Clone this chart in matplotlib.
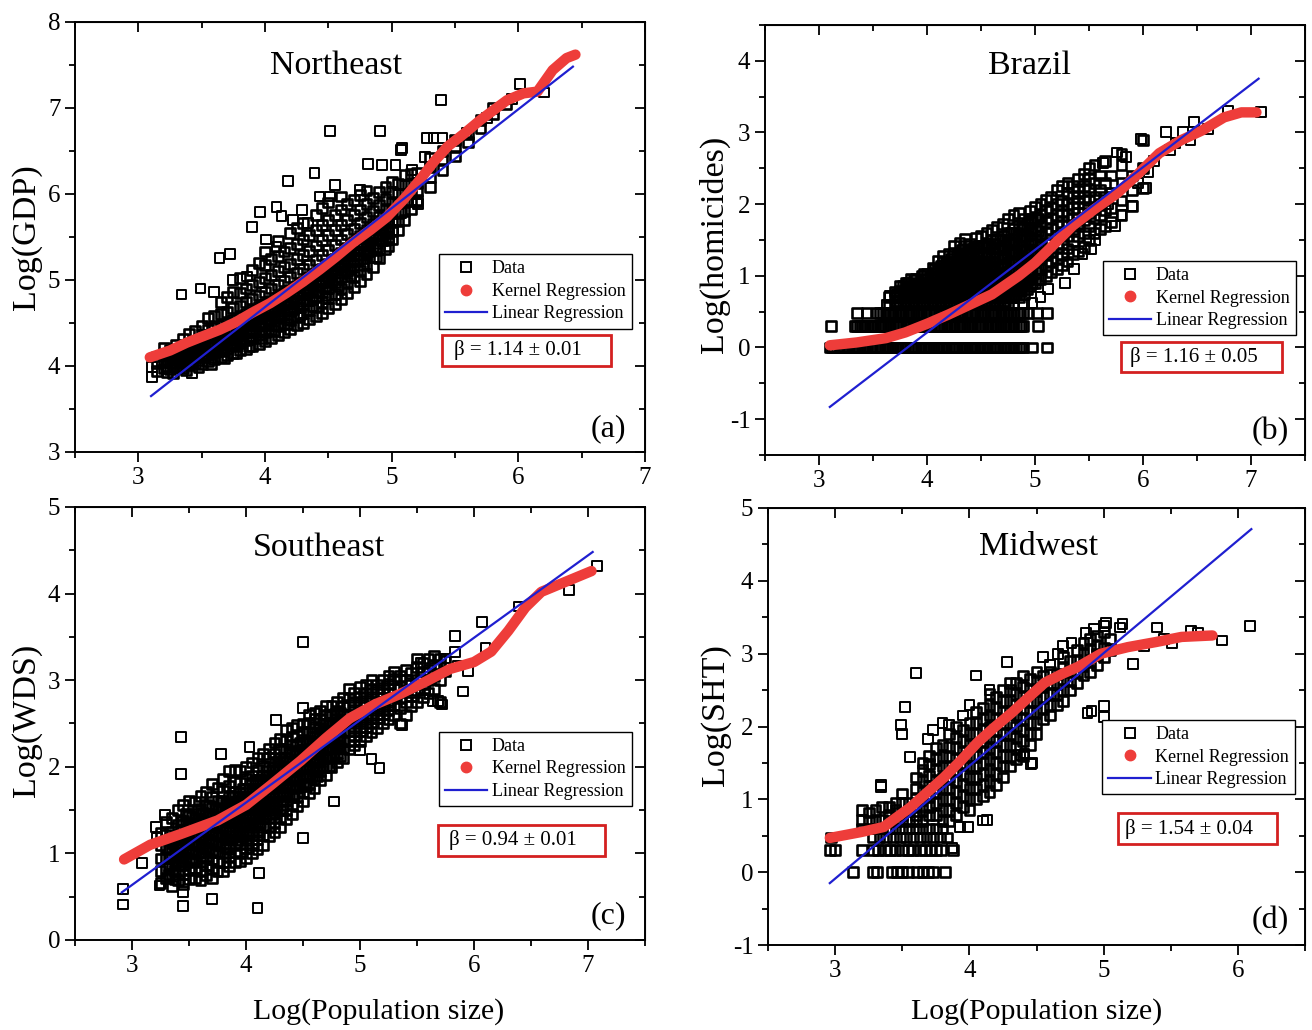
import matplotlib
matplotlib.use("Agg")
import matplotlib.pyplot as plt
from matplotlib.lines import Line2D
from matplotlib.patches import Rectangle
from matplotlib.ticker import MultipleLocator

plt.rcParams['font.family'] = ['Liberation Serif', 'DejaVu Serif']
plt.rcParams['axes.unicode_minus'] = False

# ---------------- (a) Northeast : Log(GDP) ----------------
a_cols = [3.15, 3.2, 3.25, 3.3, 3.35, 3.4, 3.45, 3.5, 3.55, 3.6, 3.65, 3.7, 3.75, 3.8,
          3.85, 3.9, 3.95, 4.0, 4.05, 4.1, 4.15, 4.2, 4.25, 4.3, 4.35, 4.4, 4.45, 4.5,
          4.55, 4.6, 4.65, 4.7, 4.75, 4.8, 4.85, 4.9, 4.95, 5.0, 5.05, 5.1, 5.15, 5.2,
          5.3, 5.4, 5.5, 5.6, 5.7, 5.8, 5.9]
a_vals = [[3.94, 4.03, 4.11], [3.97, 4.06, 4.14, 4.21], [3.96, 4.04, 4.12, 4.19],
          [3.99, 4.08, 4.16, 4.24], [3.97, 4.05, 4.13, 4.22, 4.31], [4.01, 4.09, 4.17, 4.26, 4.37],
          [4.03, 4.11, 4.2, 4.29, 4.41], [4.02, 4.1, 4.19, 4.28, 4.36, 4.47],
          [4.06, 4.14, 4.23, 4.32, 4.42, 4.56], [4.08, 4.16, 4.25, 4.34, 4.44, 4.58],
          [4.1, 4.19, 4.28, 4.37, 4.47, 4.6, 4.74], [4.13, 4.21, 4.3, 4.4, 4.5, 4.63, 4.8],
          [4.15, 4.24, 4.33, 4.43, 4.54, 4.67, 4.86], [4.18, 4.27, 4.36, 4.46, 4.57, 4.7, 4.85, 5.02],
          [4.2, 4.3, 4.39, 4.5, 4.61, 4.74, 4.9], [4.23, 4.32, 4.42, 4.53, 4.65, 4.78, 4.94, 5.12],
          [4.26, 4.36, 4.46, 4.57, 4.69, 4.82, 4.98, 5.2],
          [4.29, 4.39, 4.49, 4.6, 4.72, 4.86, 5.02, 5.17, 5.33],
          [4.32, 4.42, 4.53, 4.64, 4.76, 4.9, 5.06, 5.24],
          [4.36, 4.46, 4.56, 4.68, 4.8, 4.94, 5.1, 5.28, 5.45],
          [4.39, 4.49, 4.6, 4.72, 4.85, 4.99, 5.15, 5.33],
          [4.43, 4.53, 4.64, 4.76, 4.89, 5.03, 5.19, 5.37, 5.55],
          [4.47, 4.57, 4.68, 4.8, 4.93, 5.08, 5.24, 5.42, 5.6],
          [4.5, 4.61, 4.72, 4.85, 4.98, 5.13, 5.29, 5.47, 5.66],
          [4.54, 4.65, 4.77, 4.9, 5.03, 5.18, 5.34, 5.52],
          [4.58, 4.69, 4.81, 4.94, 5.08, 5.23, 5.4, 5.58, 5.76],
          [4.62, 4.74, 4.86, 4.99, 5.13, 5.29, 5.46, 5.64, 5.84],
          [4.67, 4.79, 4.91, 5.05, 5.19, 5.35, 5.52, 5.7, 5.9],
          [4.72, 4.84, 4.97, 5.11, 5.25, 5.41, 5.58, 5.76],
          [4.78, 4.9, 5.03, 5.17, 5.31, 5.47, 5.64, 5.82, 5.97],
          [4.85, 4.97, 5.1, 5.23, 5.37, 5.53, 5.7, 5.88],
          [4.92, 5.04, 5.17, 5.3, 5.44, 5.59, 5.76, 5.93],
          [4.99, 5.11, 5.24, 5.37, 5.51, 5.66, 5.82, 5.99],
          [5.07, 5.19, 5.31, 5.44, 5.58, 5.73, 5.88, 6.04],
          [5.15, 5.27, 5.39, 5.52, 5.65, 5.8, 5.95], [5.25, 5.36, 5.48, 5.6, 5.73, 5.87, 6.02],
          [5.36, 5.46, 5.57, 5.69, 5.81, 5.94, 6.08], [5.47, 5.57, 5.67, 5.78, 5.9, 6.02, 6.14],
          [5.58, 5.68, 5.78, 5.89, 6.0, 6.12], [5.7, 5.8, 5.9, 6.0, 6.11, 6.22],
          [5.82, 5.92, 6.02, 6.12, 6.23], [5.93, 6.03, 6.13, 6.24], [6.08, 6.2, 6.32, 6.42],
          [6.28, 6.4, 6.5], [6.44, 6.55, 6.63], [6.6, 6.7], [6.76, 6.86], [6.93, 7.0], [7.04]]
# densest band just under the kernel curve
a_core_cols = [3.225, 3.275, 3.325, 3.375, 3.425, 3.475, 3.525, 3.575, 3.625, 3.675, 3.725,
               3.775, 3.825, 3.875, 3.925, 3.975, 4.025, 4.075, 4.125, 4.175, 4.225, 4.275,
               4.325, 4.375, 4.425, 4.475, 4.525, 4.575, 4.625, 4.675, 4.725, 4.775, 4.825,
               4.875, 4.925, 4.975]
a_core_vals = [[3.93, 4.0, 4.07, 4.14], [3.92, 4.0, 4.08, 4.16], [3.99, 4.06, 4.13, 4.2],
               [3.95, 4.03, 4.11, 4.19], [4.05, 4.12, 4.19, 4.26], [3.99, 4.07, 4.15, 4.23, 4.3],
               [4.11, 4.18, 4.25, 4.32], [4.02, 4.1, 4.18, 4.26, 4.34], [4.17, 4.24, 4.31, 4.38],
               [4.09, 4.17, 4.25, 4.33, 4.41], [4.24, 4.31, 4.38, 4.45],
               [4.15, 4.23, 4.31, 4.39, 4.47], [4.31, 4.38, 4.45, 4.52],
               [4.23, 4.31, 4.39, 4.47, 4.55], [4.4, 4.47, 4.54, 4.61],
               [4.32, 4.4, 4.48, 4.56, 4.64], [4.48, 4.55, 4.62, 4.69],
               [4.41, 4.49, 4.57, 4.65, 4.73], [4.57, 4.64, 4.71, 4.78],
               [4.49, 4.57, 4.65, 4.73, 4.81], [4.66, 4.73, 4.8, 4.87],
               [4.6, 4.68, 4.76, 4.84, 4.92], [4.77, 4.84, 4.91, 4.98],
               [4.7, 4.78, 4.86, 4.94, 5.02], [4.87, 4.94, 5.01, 5.08],
               [4.82, 4.9, 4.98, 5.06, 5.14], [4.99, 5.06, 5.13, 5.2],
               [4.93, 5.01, 5.09, 5.17, 5.25], [5.11, 5.18, 5.25, 5.32],
               [5.05, 5.13, 5.21, 5.29, 5.37], [5.23, 5.3, 5.37, 5.44],
               [5.17, 5.25, 5.33, 5.41, 5.49], [5.34, 5.41, 5.48, 5.55],
               [5.27, 5.35, 5.43, 5.51, 5.59], [5.46, 5.53, 5.6, 5.67],
               [5.39, 5.47, 5.55, 5.63, 5.71]]
a_out_x = [4.51, 4.91, 5.07, 4.81, 4.92, 5.03, 4.39, 4.18, 4.55, 3.96, 4.09, 3.9, 4.13, 3.64,
           3.72, 3.34, 3.49, 3.6, 5.01, 5.2, 3.11, 3.11, 3.42, 4.43, 4.51, 4.75, 4.29, 4.34,
           4.22, 4.09, 4.01, 3.75, 3.86, 6.01, 5.39, 5.28, 5.33, 5.4, 5.08, 5.59, 5.75, 5.26,
           5.16, 5.21, 4.98, 5.07, 6.2, 5.95]
a_out_y = [6.73, 6.73, 6.51, 6.35, 6.34, 6.34, 6.24, 6.15, 6.1, 5.79, 5.85, 5.62, 5.74, 5.26,
           5.3, 4.83, 4.9, 4.86, 5.58, 5.9, 3.99, 3.87, 3.92, 5.97, 5.97, 6.05, 5.81, 5.66,
           5.7, 5.38, 5.47, 5.0, 5.04, 7.28, 7.09, 6.65, 6.65, 6.65, 6.53, 6.71, 6.88, 6.43,
           6.28, 5.88, 5.49, 5.78, 7.18, 7.1]
a_kern_x = [3.09, 3.25, 3.38, 3.5, 3.64, 3.77, 3.9, 4.04, 4.17, 4.3, 4.43, 4.56, 4.69, 4.83,
            4.96, 5.09, 5.22, 5.33, 5.44, 5.57, 5.7, 5.8, 5.91, 6.04, 6.15, 6.27, 6.38, 6.45]
a_kern_y = [4.1, 4.18, 4.27, 4.34, 4.42, 4.51, 4.62, 4.73, 4.85, 4.98, 5.12, 5.27, 5.43, 5.58,
            5.73, 5.93, 6.16, 6.37, 6.55, 6.7, 6.86, 6.97, 7.09, 7.17, 7.19, 7.44, 7.58, 7.62]
a_lin_x = [3.1, 6.43]
a_lin_y = [3.65, 7.48]

# ---------------- (b) Brazil : Log(homicides) ----------------
b_row_y = [0.0, 0.301, 0.477]
b_row_x = [[3.1, 3.12, 3.14, 3.165, 3.19, 3.21, 3.23, 3.255, 3.28, 3.305, 3.33, 3.35, 3.37,
            3.395, 3.42, 3.445, 3.47, 3.495, 3.52, 3.54, 3.56, 3.585, 3.61, 3.635, 3.66, 3.68,
            3.7, 3.725, 3.75, 3.775, 3.8, 3.825, 3.85, 3.87, 3.89, 3.915, 3.94, 3.965, 3.99,
            4.015, 4.04, 4.06, 4.08, 4.105, 4.13, 4.155, 4.18, 4.205, 4.23, 4.25, 4.27, 4.295,
            4.32, 4.345, 4.37, 4.395, 4.42, 4.44, 4.46, 4.485, 4.51, 4.535, 4.56, 4.585, 4.61,
            4.63, 4.65, 4.675, 4.7, 4.725, 4.75, 4.775, 4.8, 4.825, 4.85, 4.87, 4.89, 4.97,
            5.11],
           [3.11, 3.33, 3.355, 3.38, 3.4, 3.42, 3.445, 3.47, 3.495, 3.52, 3.545, 3.57, 3.59,
            3.61, 3.635, 3.66, 3.685, 3.71, 3.73, 3.75, 3.775, 3.8, 3.825, 3.85, 3.875, 3.9,
            3.92, 3.94, 3.965, 3.99, 4.015, 4.04, 4.065, 4.09, 4.11, 4.13, 4.155, 4.18, 4.205,
            4.23, 4.255, 4.28, 4.3, 4.32, 4.345, 4.37, 4.395, 4.42, 4.445, 4.47, 4.49, 4.51,
            4.535, 4.56, 4.585, 4.61, 4.635, 4.66, 4.68, 4.7, 4.725, 4.75, 4.775, 4.8, 4.825,
            4.85, 4.87, 4.89, 5.03],
           [3.35, 3.44, 3.54, 3.565, 3.59, 3.615, 3.64, 3.66, 3.68, 3.705, 3.73, 3.755, 3.78,
            3.805, 3.83, 3.85, 3.87, 3.895, 3.92, 3.945, 3.97, 3.995, 4.02, 4.04, 4.06, 4.085,
            4.11, 4.135, 4.16, 4.185, 4.21, 4.23, 4.25, 4.275, 4.3, 4.325, 4.35, 4.375, 4.4,
            4.42, 4.44, 4.465, 4.49, 4.515, 4.54, 4.565, 4.59, 4.61, 4.63, 4.655, 4.68, 4.705,
            4.73, 4.755, 4.78, 4.805, 4.83, 4.86, 4.89, 4.94, 5.02, 5.11]]
b_cols = [3.65, 3.7, 3.75, 3.8, 3.85, 3.9, 3.95, 4.0, 4.05, 4.1, 4.15, 4.2, 4.25, 4.3, 4.35,
          4.4, 4.45, 4.5, 4.55, 4.6, 4.65, 4.7, 4.75, 4.8, 4.85, 4.9, 4.95, 5.0, 5.05, 5.1,
          5.15, 5.2, 5.25, 5.3, 5.35, 5.4, 5.45, 5.5, 5.55, 5.6, 5.65, 5.7, 5.8, 5.9, 6.0]
b_vals = [[0.6, 0.7], [0.6, 0.7, 0.78], [0.6, 0.7, 0.79, 0.86], [0.6, 0.7, 0.78, 0.85, 0.9],
          [0.6, 0.7, 0.78, 0.86, 0.95], [0.6, 0.7, 0.79, 0.85, 0.96], [0.6, 0.7, 0.78, 0.85, 0.9, 1.0],
          [0.6, 0.7, 0.78, 0.86, 0.95, 1.02], [0.6, 0.7, 0.78, 0.85, 0.95, 1.04, 1.11],
          [0.6, 0.7, 0.79, 0.9, 1.0, 1.1, 1.21], [0.6, 0.7, 0.8, 0.9, 1.01, 1.1, 1.2, 1.28],
          [0.6, 0.7, 0.8, 0.9, 1.0, 1.11, 1.2, 1.31], [0.6, 0.7, 0.8, 0.91, 1.0, 1.1, 1.2, 1.32, 1.41],
          [0.6, 0.7, 0.8, 0.9, 1.0, 1.1, 1.21, 1.3, 1.46],
          [0.6, 0.7, 0.8, 0.9, 1.0, 1.1, 1.2, 1.3, 1.42, 1.51],
          [0.6, 0.7, 0.8, 0.9, 1.0, 1.1, 1.2, 1.32, 1.45],
          [0.6, 0.7, 0.8, 0.9, 1.0, 1.1, 1.2, 1.3, 1.4, 1.53],
          [0.6, 0.7, 0.8, 0.9, 1.0, 1.1, 1.2, 1.3, 1.42, 1.56],
          [0.6, 0.7, 0.8, 0.9, 1.0, 1.1, 1.2, 1.32, 1.45, 1.6],
          [0.6, 0.7, 0.8, 0.9, 1.0, 1.12, 1.25, 1.38, 1.5, 1.64],
          [0.6, 0.7, 0.8, 0.9, 1.0, 1.12, 1.25, 1.38, 1.52, 1.68],
          [0.6, 0.7, 0.8, 0.9, 1.02, 1.15, 1.28, 1.42, 1.56, 1.72],
          [0.6, 0.7, 0.8, 0.92, 1.05, 1.18, 1.32, 1.46, 1.6, 1.8],
          [0.6, 0.7, 0.8, 0.92, 1.05, 1.2, 1.35, 1.5, 1.65, 1.85],
          [0.7, 0.8, 0.95, 1.1, 1.25, 1.4, 1.55, 1.7, 1.88],
          [0.75, 0.9, 1.05, 1.2, 1.35, 1.5, 1.65, 1.8],
          [0.85, 1.0, 1.15, 1.3, 1.45, 1.6, 1.75, 1.9],
          [0.9, 1.05, 1.2, 1.35, 1.5, 1.65, 1.8, 1.96],
          [0.95, 1.1, 1.25, 1.4, 1.55, 1.7, 1.85, 2.0],
          [1.0, 1.15, 1.3, 1.45, 1.6, 1.75, 1.9, 2.06],
          [1.05, 1.2, 1.35, 1.5, 1.65, 1.8, 1.95, 2.1],
          [1.1, 1.25, 1.4, 1.55, 1.7, 1.85, 2.0, 2.2],
          [1.15, 1.3, 1.45, 1.6, 1.75, 1.9, 2.05, 2.25],
          [1.2, 1.38, 1.55, 1.7, 1.85, 2.0, 2.15, 2.3],
          [1.3, 1.48, 1.65, 1.8, 1.95, 2.1, 2.25], [1.35, 1.55, 1.72, 1.88, 2.02, 2.18, 2.35],
          [1.4, 1.6, 1.78, 1.95, 2.1, 2.25, 2.42], [1.5, 1.7, 1.88, 2.05, 2.2, 2.35, 2.5],
          [1.6, 1.8, 1.95, 2.1, 2.3, 2.55], [1.65, 1.85, 2.0, 2.2, 2.4],
          [1.7, 1.92, 2.1, 2.3, 2.6], [1.75, 1.95, 2.15, 2.4], [1.85, 2.05, 2.3, 2.55, 2.7],
          [1.97, 2.2, 2.4], [2.22, 2.5, 2.9]]
b_core_cols = [3.725, 3.775, 3.825, 3.875, 3.925, 3.975, 4.025, 4.075, 4.125, 4.175, 4.225,
               4.275, 4.325, 4.375, 4.425, 4.475, 4.525, 4.575, 4.625, 4.675, 4.725, 4.775,
               4.825, 4.875, 4.925, 4.975, 5.025]
b_core_vals = [[0.65, 0.74], [0.62, 0.7, 0.78, 0.86], [0.65, 0.74, 0.82, 0.9],
               [0.62, 0.7, 0.78, 0.86, 0.94], [0.65, 0.74, 0.82, 0.9],
               [0.62, 0.7, 0.78, 0.86, 0.94, 1.02], [0.65, 0.74, 0.82, 0.9, 0.98],
               [0.62, 0.7, 0.78, 0.86, 0.94, 1.02, 1.1],
               [0.65, 0.74, 0.82, 0.9, 0.98, 1.06, 1.14],
               [0.62, 0.7, 0.78, 0.86, 0.94, 1.02, 1.1, 1.18],
               [0.65, 0.74, 0.82, 0.9, 0.98, 1.06, 1.14, 1.24],
               [0.62, 0.7, 0.78, 0.86, 0.94, 1.02, 1.1, 1.18, 1.28],
               [0.65, 0.74, 0.82, 0.9, 0.98, 1.06, 1.14, 1.25, 1.36],
               [0.62, 0.7, 0.78, 0.86, 0.94, 1.02, 1.1, 1.18, 1.26, 1.34],
               [0.65, 0.74, 0.82, 0.9, 0.98, 1.06, 1.14, 1.25, 1.38],
               [0.62, 0.7, 0.78, 0.86, 0.94, 1.02, 1.1, 1.18, 1.26, 1.34, 1.42],
               [0.65, 0.74, 0.82, 0.9, 0.98, 1.06, 1.16, 1.28, 1.4],
               [0.62, 0.7, 0.78, 0.86, 0.94, 1.02, 1.1, 1.2, 1.3, 1.42],
               [0.65, 0.74, 0.82, 0.9, 0.98, 1.08, 1.2, 1.32, 1.45],
               [0.62, 0.7, 0.78, 0.86, 0.95, 1.04, 1.14, 1.26, 1.38, 1.5],
               [0.65, 0.74, 0.82, 0.92, 1.02, 1.12, 1.24, 1.37, 1.5],
               [0.7, 0.78, 0.87, 0.97, 1.08, 1.2, 1.33, 1.46, 1.6],
               [0.74, 0.84, 0.95, 1.06, 1.18, 1.3, 1.44, 1.6],
               [0.78, 0.88, 1.0, 1.13, 1.27, 1.42, 1.56, 1.7],
               [0.82, 0.94, 1.08, 1.22, 1.38, 1.55, 1.72], [0.9, 1.03, 1.18, 1.34, 1.5, 1.66, 1.8],
               [0.95, 1.1, 1.28, 1.45, 1.62, 1.8]]
b_out_x = [5.12, 5.28, 5.36, 5.44, 5.52, 5.74, 5.9, 6.03, 5.84, 5.98, 6.21, 6.37, 6.47, 6.79,
           7.09, 6.1, 6.3, 6.44, 6.6, 6.25, 5.63, 5.76, 5.68, 5.8, 5.95, 6.05, 5.56, 3.63,
           3.66, 4.9, 4.97, 5.05]
b_out_y = [0.81, 0.9, 1.09, 1.3, 1.37, 1.69, 1.97, 2.22, 2.66, 2.91, 3.01, 3.01, 3.14, 3.3,
           3.28, 2.6, 2.85, 2.9, 3.05, 2.75, 2.57, 2.72, 2.0, 1.85, 2.3, 2.45, 1.5, 0.59,
           0.72, 0.6, 0.62, 0.7]
b_kern_x = [3.1, 3.35, 3.62, 3.8, 4.0, 4.2, 4.4, 4.6, 4.85, 5.0, 5.15, 5.35, 5.55, 5.76,
            5.96, 6.15, 6.35, 6.55, 6.75, 6.91, 7.05]
b_kern_y = [0.03, 0.07, 0.13, 0.21, 0.33, 0.46, 0.6, 0.74, 1.0, 1.18, 1.4, 1.7, 1.93, 2.15,
            2.43, 2.71, 2.89, 3.03, 3.21, 3.28, 3.28]
b_lin_x = [3.1, 7.07]
b_lin_y = [-0.83, 3.75]

# ---------------- (c) Southeast : Log(WDS) ----------------
c_cols = [3.25, 3.3, 3.35, 3.4, 3.45, 3.5, 3.55, 3.6, 3.65, 3.7, 3.75, 3.8, 3.85, 3.9, 3.95,
          4.0, 4.05, 4.1, 4.15, 4.2, 4.25, 4.3, 4.35, 4.4, 4.45, 4.5, 4.55, 4.6, 4.65, 4.7,
          4.75, 4.8, 4.85, 4.9, 4.95, 5.0, 5.05, 5.1, 5.15, 5.2, 5.25, 5.3, 5.35, 5.4, 5.45,
          5.5, 5.55, 5.6, 5.65, 5.7, 5.75]
c_vals = [[0.66, 0.8, 0.94, 1.1, 1.24], [0.71, 0.83, 0.95, 1.07, 1.21, 1.36],
          [0.62, 0.76, 0.88, 1.0, 1.13, 1.25, 1.41], [0.69, 0.8, 0.91, 1.01, 1.1, 1.21, 1.33, 1.5],
          [0.65, 0.76, 0.86, 0.95, 1.06, 1.16, 1.26, 1.38, 1.56],
          [0.7, 0.81, 0.9, 1.0, 1.11, 1.2, 1.31, 1.43, 1.61],
          [0.72, 0.83, 0.93, 1.02, 1.12, 1.23, 1.33, 1.46, 1.6],
          [0.69, 0.8, 0.9, 1.01, 1.1, 1.2, 1.31, 1.4, 1.51, 1.66],
          [0.75, 0.86, 0.95, 1.06, 1.15, 1.26, 1.35, 1.46, 1.56, 1.71],
          [0.72, 0.82, 0.93, 1.02, 1.13, 1.22, 1.33, 1.42, 1.53, 1.65, 1.8],
          [0.8, 0.9, 1.01, 1.1, 1.21, 1.3, 1.41, 1.5, 1.61, 1.76],
          [0.79, 0.9, 1.0, 1.11, 1.2, 1.31, 1.4, 1.51, 1.6, 1.72, 1.86],
          [0.85, 0.96, 1.05, 1.16, 1.25, 1.36, 1.45, 1.56, 1.65, 1.78, 1.95],
          [0.9, 1.01, 1.1, 1.2, 1.31, 1.4, 1.51, 1.6, 1.71, 1.82, 1.96],
          [0.91, 1.0, 1.11, 1.2, 1.3, 1.41, 1.5, 1.61, 1.7, 1.81, 1.95],
          [0.95, 1.06, 1.15, 1.26, 1.35, 1.45, 1.56, 1.65, 1.75, 1.86, 2.0],
          [1.0, 1.1, 1.21, 1.3, 1.4, 1.51, 1.6, 1.7, 1.81, 1.9, 2.05],
          [1.05, 1.16, 1.25, 1.36, 1.45, 1.55, 1.66, 1.75, 1.85, 1.96, 2.1],
          [1.1, 1.21, 1.3, 1.41, 1.5, 1.6, 1.71, 1.8, 1.9, 2.01, 2.15],
          [1.2, 1.3, 1.41, 1.5, 1.6, 1.7, 1.81, 1.9, 2.0, 2.1, 2.21],
          [1.25, 1.35, 1.46, 1.55, 1.65, 1.76, 1.85, 1.95, 2.06, 2.15, 2.28],
          [1.3, 1.41, 1.5, 1.6, 1.71, 1.8, 1.9, 2.01, 2.1, 2.2, 2.32],
          [1.4, 1.5, 1.61, 1.7, 1.8, 1.91, 2.0, 2.1, 2.21, 2.3, 2.42],
          [1.45, 1.56, 1.65, 1.75, 1.86, 1.95, 2.05, 2.16, 2.25, 2.35, 2.45],
          [1.55, 1.65, 1.76, 1.85, 1.95, 2.06, 2.15, 2.25, 2.36, 2.48],
          [1.6, 1.71, 1.8, 1.9, 2.01, 2.1, 2.2, 2.31, 2.4, 2.5],
          [1.7, 1.8, 1.91, 2.0, 2.1, 2.21, 2.3, 2.4, 2.51, 2.6],
          [1.75, 1.86, 1.95, 2.05, 2.16, 2.25, 2.35, 2.46, 2.55, 2.62],
          [1.85, 1.95, 2.06, 2.15, 2.25, 2.36, 2.45, 2.55, 2.65],
          [1.9, 2.0, 2.11, 2.2, 2.3, 2.41, 2.5, 2.6, 2.7],
          [2.0, 2.1, 2.21, 2.3, 2.4, 2.51, 2.6, 2.7], [2.05, 2.16, 2.25, 2.35, 2.46, 2.55, 2.65, 2.75],
          [2.1, 2.21, 2.3, 2.4, 2.51, 2.6, 2.7, 2.8], [2.2, 2.3, 2.41, 2.5, 2.6, 2.71, 2.8, 2.9],
          [2.25, 2.36, 2.45, 2.55, 2.66, 2.75, 2.85], [2.3, 2.41, 2.5, 2.6, 2.71, 2.8, 2.92],
          [2.35, 2.46, 2.55, 2.65, 2.76, 2.85, 2.95], [2.4, 2.51, 2.6, 2.7, 2.81, 2.9, 3.0],
          [2.45, 2.56, 2.65, 2.75, 2.86, 2.95], [2.5, 2.61, 2.7, 2.8, 2.91, 3.0],
          [2.55, 2.66, 2.75, 2.85, 2.96, 3.05], [2.6, 2.71, 2.8, 2.9, 3.01, 3.1],
          [2.5, 2.68, 2.8, 2.92, 3.05], [2.6, 2.75, 2.88, 3.0, 3.12], [2.7, 2.82, 2.95, 3.08],
          [2.75, 2.88, 3.0, 3.15, 3.25], [2.8, 2.95, 3.1, 3.2], [2.85, 3.0, 3.12, 3.25],
          [2.9, 3.05, 3.18, 3.28], [2.75, 3.0, 3.15, 3.25], [3.1, 3.22]]
c_core_cols = [3.325, 3.375, 3.425, 3.475, 3.525, 3.575, 3.625, 3.675, 3.725, 3.775, 3.825,
               3.875, 3.925, 3.975, 4.025, 4.075, 4.125, 4.175, 4.225, 4.275, 4.325, 4.375,
               4.425, 4.475, 4.525, 4.575, 4.625, 4.675, 4.725, 4.775, 4.825]
c_core_vals = [[0.75, 0.85, 0.95, 1.05, 1.15], [0.7, 0.8, 0.9, 1.0, 1.1, 1.2],
               [0.87, 0.97, 1.07, 1.17, 1.27, 1.37], [0.95, 1.05, 1.15, 1.25, 1.35, 1.45],
               [0.92, 1.02, 1.12, 1.22, 1.32, 1.42], [1.0, 1.1, 1.2, 1.3, 1.4, 1.5],
               [0.97, 1.07, 1.17, 1.27, 1.37, 1.47], [1.05, 1.15, 1.25, 1.35, 1.45, 1.55],
               [1.02, 1.12, 1.22, 1.32, 1.42, 1.52], [1.1, 1.2, 1.3, 1.4, 1.5, 1.6],
               [1.07, 1.17, 1.27, 1.37, 1.47, 1.57], [1.16, 1.26, 1.36, 1.46, 1.56, 1.66],
               [1.15, 1.25, 1.35, 1.45, 1.55, 1.65], [1.25, 1.35, 1.45, 1.55, 1.65, 1.75],
               [1.24, 1.34, 1.44, 1.54, 1.64, 1.74], [1.34, 1.44, 1.54, 1.64, 1.74, 1.84],
               [1.35, 1.45, 1.55, 1.65, 1.75, 1.85], [1.45, 1.55, 1.65, 1.75, 1.85, 1.95],
               [1.45, 1.55, 1.65, 1.75, 1.85, 1.95], [1.56, 1.66, 1.76, 1.86, 1.96, 2.06],
               [1.56, 1.66, 1.76, 1.86, 1.96, 2.06], [1.67, 1.77, 1.87, 1.97, 2.07, 2.17],
               [1.68, 1.78, 1.88, 1.98, 2.08, 2.18], [1.78, 1.88, 1.98, 2.08, 2.18, 2.28],
               [1.78, 1.88, 1.98, 2.08, 2.18, 2.28], [1.89, 1.99, 2.09, 2.19, 2.29, 2.39],
               [1.89, 1.99, 2.09, 2.19, 2.29, 2.39], [2.0, 2.1, 2.2, 2.3, 2.4, 2.5],
               [2.01, 2.11, 2.21, 2.31, 2.41, 2.51], [2.11, 2.21, 2.31, 2.41, 2.51, 2.61],
               [2.12, 2.22, 2.32, 2.42, 2.52, 2.62]]
c_out_x = [7.08, 6.83, 6.39, 6.07, 5.83, 6.1, 5.9, 5.68, 5.72, 4.5, 3.43, 3.43, 3.78, 4.03,
           4.26, 4.5, 5.0, 5.17, 5.1, 4.77, 4.5, 4.11, 4.1, 3.7, 3.45, 3.45, 2.92, 2.92, 3.09,
           3.22, 3.29, 3.21, 3.24, 5.83, 5.75, 5.86, 5.95, 5.57, 5.64, 5.37, 5.53]
c_out_y = [4.32, 4.04, 3.85, 3.67, 3.51, 3.37, 2.87, 2.76, 2.72, 3.44, 2.34, 1.92, 2.15, 2.23,
           2.54, 2.68, 2.19, 1.99, 2.09, 1.6, 1.18, 0.77, 0.37, 0.47, 0.39, 0.55, 0.41, 0.59, 0.89,
           1.18, 1.44, 1.3, 0.63, 3.33, 3.25, 3.17, 3.1, 2.88, 2.76, 2.48, 3.2]
c_kern_x = [2.93, 3.16, 3.42, 3.75, 4.0, 4.22, 4.48, 4.7, 4.91, 5.13, 5.35, 5.57, 5.79, 6.0,
            6.15, 6.3, 6.45, 6.59, 6.81, 7.03]
c_kern_y = [0.93, 1.1, 1.22, 1.38, 1.56, 1.79, 2.07, 2.33, 2.56, 2.72, 2.84, 2.98, 3.13, 3.21,
            3.33, 3.57, 3.84, 4.02, 4.14, 4.26]
c_lin_x = [2.91, 7.04]
c_lin_y = [0.55, 4.48]

# ---------------- (d) Midwest : Log(SHT) ----------------
d_row_y = [0.0, 0.301, 0.477]
d_row_x = [[3.13, 3.28, 3.31, 3.42, 3.46, 3.5, 3.54, 3.61, 3.65, 3.69, 3.73, 3.82],
           [2.96, 3.0, 3.2, 3.28, 3.32, 3.37, 3.41, 3.45, 3.5, 3.54, 3.58, 3.63, 3.67, 3.71,
            3.75, 3.79, 3.88],
           [2.97, 3.28, 3.33, 3.38, 3.43, 3.48, 3.53, 3.58, 3.63, 3.68, 3.73, 3.78, 3.83]]
d_cols = [3.2, 3.25, 3.3, 3.35, 3.4, 3.45, 3.5, 3.55, 3.6, 3.65, 3.7, 3.75, 3.8, 3.85, 3.9,
          3.95, 4.0, 4.05, 4.1, 4.15, 4.2, 4.25, 4.3, 4.35, 4.4, 4.45, 4.5, 4.55, 4.6, 4.65,
          4.7, 4.75, 4.8, 4.85, 4.9, 4.95, 5.0, 5.05]
d_vals = [[0.6, 0.72, 0.85], [0.6, 0.7, 0.82], [0.6, 0.7, 0.85], [0.6, 0.72, 0.9],
          [0.6, 0.7, 0.78, 0.9], [0.6, 0.7, 0.85, 0.95], [0.6, 0.7, 0.78, 0.95, 1.08],
          [0.6, 0.7, 0.85, 0.95], [0.6, 0.7, 0.78, 0.9, 1.0, 1.15, 1.3],
          [0.6, 0.7, 0.85, 1.0, 1.1, 1.25, 1.4, 1.5], [0.6, 0.78, 0.9, 1.04, 1.18, 1.32, 1.48, 1.6],
          [0.6, 0.78, 0.95, 1.1, 1.25, 1.4, 1.55, 1.7], [0.6, 0.7, 0.85, 1.0, 1.15, 1.3, 1.45, 1.6, 1.75],
          [0.7, 0.85, 1.0, 1.15, 1.3, 1.45, 1.6, 1.72, 1.9],
          [0.78, 0.95, 1.1, 1.25, 1.4, 1.55, 1.7, 1.85, 2.0],
          [0.9, 1.05, 1.2, 1.35, 1.5, 1.65, 1.8, 1.95],
          [0.85, 1.0, 1.15, 1.3, 1.45, 1.6, 1.75, 1.9, 2.05],
          [1.0, 1.15, 1.3, 1.45, 1.6, 1.75, 1.9, 2.05, 2.2],
          [1.05, 1.2, 1.35, 1.5, 1.65, 1.8, 1.95, 2.1, 2.25],
          [1.1, 1.25, 1.4, 1.55, 1.7, 1.85, 2.0, 2.15, 2.3, 2.45],
          [1.2, 1.35, 1.5, 1.65, 1.8, 1.95, 2.1, 2.25, 2.4],
          [1.3, 1.45, 1.6, 1.75, 1.9, 2.05, 2.2, 2.35, 2.5],
          [1.45, 1.6, 1.75, 1.9, 2.05, 2.2, 2.35, 2.5, 2.6],
          [1.55, 1.7, 1.85, 2.0, 2.15, 2.3, 2.45, 2.6], [1.6, 1.8, 1.95, 2.1, 2.25, 2.4, 2.55, 2.7],
          [1.75, 1.9, 2.05, 2.2, 2.35, 2.5, 2.65], [1.9, 2.05, 2.2, 2.35, 2.5, 2.62, 2.75],
          [2.1, 2.25, 2.4, 2.55, 2.7], [2.15, 2.3, 2.45, 2.6, 2.75], [2.3, 2.45, 2.6, 2.72],
          [2.35, 2.5, 2.65, 2.8, 2.95], [2.5, 2.62, 2.75, 2.9], [2.6, 2.75, 2.9, 3.05],
          [2.7, 2.85, 3.0, 3.15], [2.75, 2.9, 3.05, 3.2], [2.85, 3.0, 3.1, 3.25], [2.95, 3.08, 3.3],
          [3.05, 3.2]]
d_out_x = [6.09, 5.88, 5.4, 5.12, 5.0, 5.22, 5.51, 5.65, 4.88, 5.0, 5.0, 4.28, 4.05, 3.6, 3.52,
           3.49, 3.5, 3.34, 3.34, 3.85, 3.69, 4.38, 4.46, 4.13, 3.99, 3.87, 5.02, 5.14, 4.87,
           4.66, 4.76, 4.93, 4.91, 4.47, 4.41, 3.56, 3.73, 4.1, 3.93, 5.3, 5.7, 5.45, 4.55,
           4.6, 4.7, 3.8, 3.95, 4.0, 4.15]
d_out_y = [3.38, 3.18, 3.36, 3.36, 3.38, 2.86, 3.14, 3.31, 2.19, 2.28, 2.13, 2.89, 2.7, 2.73, 2.27,
           2.02, 1.9, 1.2, 1.17, 2.02, 1.83, 1.61, 1.49, 0.72, 0.62, 0.33, 3.42, 3.41, 3.28,
           3.0, 3.15, 3.34, 2.21, 1.5, 1.63, 1.58, 1.95, 0.71, 0.62, 3.1, 3.28, 3.2, 2.95,
           2.85, 3.1, 2.05, 2.15, 2.3, 2.5]
d_kern_x = [2.96, 3.19, 3.36, 3.56, 3.81, 3.94, 4.06, 4.18, 4.31, 4.44, 4.56, 4.7, 4.81, 4.98,
            5.18, 5.39, 5.58, 5.81]
d_kern_y = [0.47, 0.55, 0.62, 0.89, 1.3, 1.54, 1.78, 1.98, 2.18, 2.4, 2.6, 2.73, 2.82, 3.0,
            3.09, 3.16, 3.23, 3.25]
d_lin_x = [2.96, 6.1]
d_lin_y = [-0.15, 4.71]

titles = ["Northeast", "Brazil", "Southeast", "Midwest"]
ylabels = ["Log(GDP)", "Log(homicides)", "Log(WDS)", "Log(SHT)"]
betas = ["β = 1.14 ± 0.01", "β = 1.16 ± 0.05", "β = 0.94 ± 0.01", "β = 1.54 ± 0.04"]
letters = ["(a)", "(b)", "(c)", "(d)"]

RED = '#ee3d3a'
BLUE = '#1f1fd0'


def flat_cols(cols, vals):
    xs, ys = [], []
    for x, col in zip(cols, vals):
        xs += [x] * len(col)
        ys += col
    return xs, ys


def flat_rows(rows_y, rows_x):
    xs, ys = [], []
    for y, row in zip(rows_y, rows_x):
        xs += row
        ys += [y] * len(row)
    return xs, ys


def draw(ax, cloud_x, cloud_y, out_x, out_y, kx, ky, lx, ly, xlim, ylim, i, tpos, legpos,
         boxpos, ylab_pos):
    # dense cloud drawn a touch heavier so overlapping boxes merge like the original
    ax.scatter(cloud_x, cloud_y, marker='s', s=50, facecolors='none', edgecolors='black',
               linewidths=1.9, zorder=2)
    ax.scatter(out_x, out_y, marker='s', s=50, facecolors='none', edgecolors='black',
               linewidths=1.4, zorder=2)
    ax.plot(kx, ky, color=RED, lw=7.5, solid_capstyle='round', solid_joinstyle='round', zorder=3)
    ax.plot(lx, ly, color=BLUE, lw=1.6, zorder=4)
    ax.set_xlim(*xlim)
    ax.set_ylim(*ylim)
    for axis in (ax.xaxis, ax.yaxis):
        axis.set_major_locator(MultipleLocator(1))
        axis.set_minor_locator(MultipleLocator(0.5))
    ax.tick_params(which='both', direction='out', width=1.3, labelsize=18, top=False, right=False)
    ax.tick_params(which='major', length=7)
    ax.tick_params(which='minor', length=4)
    top = ax.secondary_xaxis('top')
    top.xaxis.set_major_locator(MultipleLocator(1))
    top.xaxis.set_minor_locator(MultipleLocator(0.5))
    top.tick_params(which='both', direction='in', width=1.3, labeltop=False)
    top.tick_params(which='major', length=7)
    top.tick_params(which='minor', length=4)
    right = ax.secondary_yaxis('right')
    right.yaxis.set_major_locator(MultipleLocator(1))
    right.yaxis.set_minor_locator(MultipleLocator(0.5))
    right.tick_params(which='both', direction='in', width=1.3, labelright=False)
    right.tick_params(which='major', length=7)
    right.tick_params(which='minor', length=4)
    for sp in ax.spines.values():
        sp.set_linewidth(1.4)
    ax.set_ylabel(ylabels[i], fontsize=24.5, va='center')
    ax.yaxis.set_label_coords(*ylab_pos)
    ax.text(tpos[0], tpos[1], titles[i], transform=ax.transAxes, ha='center', va='center',
            fontsize=24.5)
    ax.text(0.935, 0.055, letters[i], transform=ax.transAxes, ha='center', va='center',
            fontsize=23)
    handles = [Line2D([], [], ls='none', marker='s', mfc='none', mec='black', ms=7, mew=1.4),
               Line2D([], [], ls='none', marker='o', mfc=RED, mec=RED, ms=7.5),
               Line2D([], [], color=BLUE, lw=1.6)]
    leg = ax.legend(handles, ["Data", "Kernel Regression", "Linear Regression"],
                    loc='upper left', bbox_to_anchor=legpos, fontsize=13, frameon=True,
                    fancybox=False, edgecolor='black', framealpha=1, borderaxespad=0,
                    handlelength=2.35, handletextpad=0.25, labelspacing=0.3, borderpad=0.35)
    leg.get_frame().set_linewidth(1.0)
    leg.set_zorder(6)
    bx0, by0, bx1, by1 = boxpos
    ax.add_patch(Rectangle((bx0, by0), bx1 - bx0, by1 - by0, transform=ax.transAxes,
                           fill=True, facecolor='white', edgecolor='#d42020', lw=2, zorder=6))
    ax.text((bx0 + bx1) / 2 - 0.015, (by0 + by1) / 2, betas[i], transform=ax.transAxes,
            ha='center', va='center', fontsize=15, zorder=7)


fig = plt.figure(figsize=(13.12, 10.30), dpi=100)
ax_a = fig.add_axes([0.0572, 0.5612, 0.4345, 0.4175])
ax_b = fig.add_axes([0.5831, 0.5583, 0.4116, 0.4175])
ax_c = fig.add_axes([0.0572, 0.0874, 0.4345, 0.4204])
ax_d = fig.add_axes([0.5854, 0.0825, 0.4093, 0.4243])

p1x, p1y = flat_cols(a_cols, a_vals)
p2x, p2y = flat_cols(a_core_cols, a_core_vals)
draw(ax_a, p1x + p2x, p1y + p2y, a_out_x, a_out_y, a_kern_x, a_kern_y, a_lin_x, a_lin_y,
     (2.5, 7), (3, 8), 0, (0.457, 0.897), (0.638, 0.46), (0.643, 0.2, 0.94, 0.272),
     (-0.085, 0.5))

p1x, p1y = flat_cols(b_cols, b_vals)
p2x, p2y = flat_cols(b_core_cols, b_core_vals)
p3x, p3y = flat_rows(b_row_y, b_row_x)
draw(ax_b, p3x + p1x + p2x, p3y + p1y + p2y, b_out_x, b_out_y, b_kern_x, b_kern_y,
     b_lin_x, b_lin_y, (2.5, 7.5), (-1.5, 4.5), 1, (0.49, 0.905), (0.625, 0.451),
     (0.66, 0.193, 0.957, 0.262), (-0.093, 0.49))

p1x, p1y = flat_cols(c_cols, c_vals)
p2x, p2y = flat_cols(c_core_cols, c_core_vals)
draw(ax_c, p1x + p2x, p1y + p2y, c_out_x, c_out_y, c_kern_x, c_kern_y, c_lin_x, c_lin_y,
     (2.5, 7.5), (0, 5), 2, (0.428, 0.905), (0.638, 0.481), (0.636, 0.195, 0.929, 0.265),
     (-0.085, 0.508))

p1x, p1y = flat_cols(d_cols, d_vals)
p3x, p3y = flat_rows(d_row_y, d_row_x)
draw(ax_d, p3x + p1x, p3y + p1y, d_out_x, d_out_y, d_kern_x, d_kern_y, d_lin_x, d_lin_y,
     (2.5, 6.5), (-1, 5), 3, (0.504, 0.911), (0.622, 0.515), (0.651, 0.231, 0.947, 0.302),
     (-0.098, 0.527))

ax_c.set_xlabel("Log(Population size)", fontsize=21.5, va='center')
ax_c.xaxis.set_label_coords(0.533, -0.166)
ax_d.set_xlabel("Log(Population size)", fontsize=21.5, va='center')
ax_d.xaxis.set_label_coords(0.5, -0.153)

fig.savefig("out.png", dpi=100)
